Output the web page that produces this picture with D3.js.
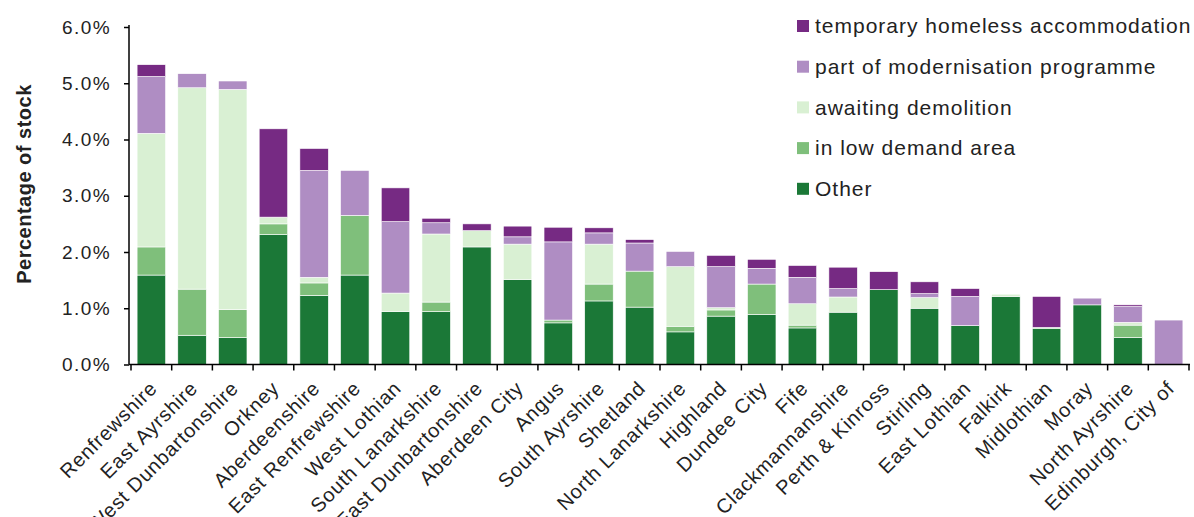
<!DOCTYPE html>
<html><head><meta charset="utf-8">
<script src="https://cdn.jsdelivr.net/npm/d3@7"></script>
<style>body{margin:0;background:#fff;} svg{display:block;font-family:Arial,"Liberation Sans",sans-serif;}</style>
</head><body>
<svg id="c" width="1194" height="517"></svg>
<script>
const categories = ["Renfrewshire","East Ayrshire","West Dunbartonshire","Orkney","Aberdeenshire","East Renfrewshire","West Lothian","South Lanarkshire","East Dunbartonshire","Aberdeen City","Angus","South Ayrshire","Shetland","North Lanarkshire","Highland","Dundee City","Fife","Clackmannanshire","Perth & Kinross","Stirling","East Lothian","Falkirk","Midlothian","Moray","North Ayrshire","Edinburgh, City of"];
const other =         [1.59,0.52,0.48,2.31,1.23,1.59,0.94,0.94,2.09,1.51,0.74,1.13,1.02,0.58,0.86,0.89,0.65,0.93,1.33,1.00,0.69,1.21,0.64,1.06,0.48,0];
const lowDemand =     [0.50,0.82,0.50,0.19,0.22,1.06,0,   0.17,0,   0,   0.05,0.30,0.64,0.10,0.11,0.54,0.05,0,   0,   0,   0,   0,   0.02,0,   0.22,0];
const awaiting =      [2.02,3.58,3.91,0.12,0.10,0,   0.33,1.21,0.29,0.63,0,   0.71,0,   1.06,0.04,0,   0.38,0.27,0,   0.19,0,   0.04,0,   0,   0.05,0];
const modernisation = [1.01,0.25,0.15,0,   1.90,0.80,1.27,0.20,0,   0.13,1.39,0.20,0.50,0.27,0.73,0.28,0.47,0.15,0,   0.07,0.52,0,   0,   0.12,0.28,0.79];
const temporary =     [0.21,0,   0,   1.57,0.39,0,   0.60,0.08,0.12,0.19,0.26,0.09,0.06,0,   0.20,0.16,0.21,0.38,0.32,0.21,0.14,0,   0.55,0,   0.03,0];
const seriesNames = ["Other","in low demand area","awaiting demolition","part of modernisation programme","temporary homeless accommodation"];
const seriesColors = ["#1b7837","#7fbf7b","#d9f0d3","#af8dc3","#762a83"];
const yTicks = [0,1,2,3,4,5,6];

const seriesData = [other, lowDemand, awaiting, modernisation, temporary];
const rows = categories.map((c,i)=>{const r={cat:c}; seriesNames.forEach((s,k)=>r[s]=seriesData[k][i]); return r;});
const stack = d3.stack().keys(seriesNames)(rows);

const svg = d3.select("#c");
const x = d3.scaleBand().domain(categories).range([131,1189]).paddingInner(0.3).paddingOuter(0.15);
const y = d3.scaleLinear().domain([0,6]).range([364.5,27]);
const color = d3.scaleOrdinal().domain(seriesNames).range(seriesColors);

// bars
svg.append("g").selectAll("g").data(stack).join("g")
  .attr("fill", d=>color(d.key))
  .selectAll("rect").data(d=>d.filter(p=>p[1]-p[0]>0)).join("rect")
  .attr("x", d=>x(d.data.cat))
  .attr("width", x.bandwidth())
  .attr("y", d=>y(d[1]))
  .attr("height", d=>y(d[0])-y(d[1]))
  .attr("stroke","#fff").attr("stroke-width",0.6);

// y axis
const yAxis = svg.append("g").attr("transform","translate(129,0)")
  .call(d3.axisLeft(y).tickValues(yTicks).tickFormat(d=>d.toFixed(1)+"%").tickSize(5).tickPadding(13));
yAxis.select(".domain").attr("stroke","#000").attr("stroke-width",1.5).attr("d","M0,25V"+y(0));
yAxis.selectAll(".tick line").attr("stroke","#000").attr("stroke-width",1.5);
yAxis.selectAll("text").attr("font-size",19).attr("fill","#222").style("letter-spacing","1.4px").attr("font-family","Arial,'Liberation Sans',sans-serif");

// x axis
const step = x.step();
const x0 = x.range()[0];
const xg = svg.append("g");
xg.append("line").attr("x1",129).attr("x2",1190).attr("y1",y(0)).attr("y2",y(0)).attr("stroke","#000").attr("stroke-width",1.5);
xg.selectAll("line.t").data(d3.range(categories.length+1)).join("line").attr("class","t")
  .attr("x1",i=>x0+i*step).attr("x2",i=>x0+i*step).attr("y1",y(0)).attr("y2",y(0)+6)
  .attr("stroke","#000").attr("stroke-width",1.5);
xg.selectAll("text").data(categories).join("text")
  .attr("transform",d=>`translate(${x(d)+x.bandwidth()/2+7},${y(0)+25}) rotate(-45)`)
  .attr("text-anchor","end").attr("font-size",20).attr("fill","#222")
  .style("letter-spacing","0.8px").text(d=>d);

// y title
svg.append("text").attr("transform","translate(31,184) rotate(-90)")
  .attr("text-anchor","middle").attr("font-size",20).attr("font-weight","bold").attr("fill","#222")
  .style("letter-spacing","0.5px").text("Percentage of stock");

// legend
const legOrder = seriesNames.slice().reverse();
const lg = svg.append("g");
legOrder.forEach((s,i)=>{
  const cy = 26 + i*40.7;
  lg.append("rect").attr("x",797).attr("y",cy-6).attr("width",12).attr("height",12).attr("fill",color(s));
  lg.append("text").attr("x",815).attr("y",cy).attr("dy","0.35em").attr("font-size",21).attr("fill","#222")
    .style("letter-spacing","1px").text(s);
});
</script>
</body></html>
